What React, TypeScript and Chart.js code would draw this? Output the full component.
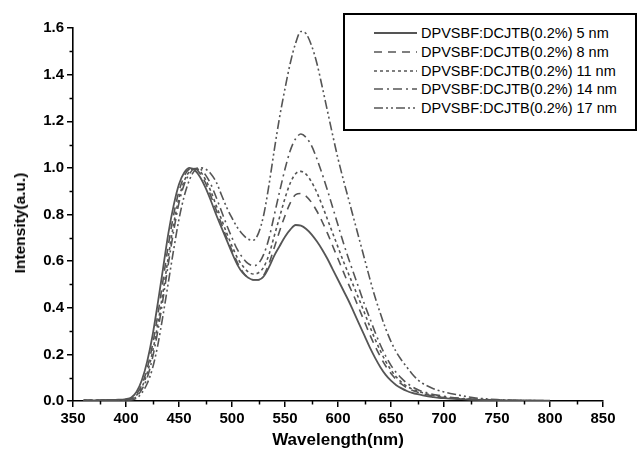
import React, { useEffect, useRef } from "react";
import { Chart, registerables } from "chart.js";

Chart.register(...registerables);

// ---- data ----
const wavelengths = [
  360, 370, 380, 390, 400,
  405, 410, 415, 420, 425, 430, 435, 440, 445, 450, 455, 460, 465, 470, 475, 480,
  485, 490, 495, 500, 505, 510, 515, 520, 525, 530, 535, 540, 545, 550, 555, 560,
  565, 570, 575, 580, 585, 590, 595, 600, 605, 610, 615, 620, 625, 630, 635, 640,
  645, 650, 655, 660, 665, 670, 675, 680, 685, 690, 695, 700,
  710, 720, 730, 740, 750, 760, 770, 780, 790, 800,
];

const nm5 = [
  0.003, 0.003, 0.004, 0.005, 0.008,
  0.015, 0.04, 0.09, 0.17, 0.28, 0.42, 0.57, 0.72, 0.84, 0.93, 0.98, 1.0, 0.99, 0.96, 0.915, 0.86,
  0.80, 0.745, 0.69, 0.635, 0.585, 0.55, 0.53, 0.52, 0.52, 0.535, 0.575, 0.625, 0.665, 0.705, 0.735, 0.755,
  0.752, 0.738, 0.715, 0.685, 0.65, 0.61, 0.565, 0.52, 0.475, 0.43, 0.38, 0.33, 0.28, 0.23, 0.185, 0.145,
  0.112, 0.087, 0.068, 0.054, 0.043, 0.035, 0.029, 0.024, 0.02, 0.017, 0.014, 0.012,
  0.009, 0.007, 0.005, 0.004, 0.003, 0.002, 0.002, 0.001, 0.001, 0.001,
];

const nm8 = [
  0.003, 0.003, 0.004, 0.005, 0.007,
  0.01, 0.03, 0.07, 0.14, 0.24, 0.37, 0.52, 0.67, 0.8, 0.9, 0.965, 0.995, 0.998, 0.975, 0.935, 0.88,
  0.82, 0.76, 0.7, 0.645, 0.595, 0.555, 0.53, 0.52, 0.52, 0.54, 0.59, 0.66, 0.73, 0.795, 0.85, 0.885,
  0.89, 0.878, 0.852, 0.815, 0.77, 0.72, 0.665, 0.61, 0.555, 0.5, 0.45, 0.395, 0.34, 0.285, 0.235, 0.19,
  0.15, 0.118, 0.092, 0.072, 0.057, 0.046, 0.038, 0.031, 0.026, 0.022, 0.018, 0.015,
  0.011, 0.008, 0.006, 0.004, 0.003, 0.002, 0.002, 0.001, 0.001, 0.001,
];

const nm11 = [
  0.003, 0.003, 0.004, 0.004, 0.006,
  0.008, 0.025, 0.06, 0.12, 0.21, 0.33, 0.47, 0.62, 0.76, 0.87, 0.945, 0.985, 1.0, 0.985, 0.95, 0.9,
  0.84, 0.78, 0.72, 0.665, 0.615, 0.58, 0.555, 0.545, 0.55, 0.575, 0.63, 0.71, 0.79, 0.87, 0.935, 0.975,
  0.985, 0.972, 0.94, 0.895, 0.84, 0.78, 0.72, 0.66, 0.6, 0.545, 0.49, 0.435, 0.378, 0.32, 0.265, 0.215,
  0.17, 0.133, 0.103, 0.08, 0.063, 0.051, 0.042, 0.035, 0.029, 0.024, 0.02, 0.017,
  0.012, 0.009, 0.007, 0.005, 0.004, 0.003, 0.002, 0.002, 0.001, 0.001,
];

const nm14 = [
  0.002, 0.003, 0.003, 0.004, 0.005,
  0.006, 0.02, 0.05, 0.1, 0.185, 0.3, 0.44, 0.59, 0.73, 0.85, 0.93, 0.975, 0.997, 0.995, 0.97, 0.93,
  0.875, 0.815, 0.755, 0.7, 0.65, 0.615, 0.59, 0.58, 0.59, 0.63, 0.7, 0.8, 0.9, 0.995, 1.075, 1.125,
  1.145, 1.13, 1.095, 1.04, 0.975, 0.905, 0.83, 0.755, 0.68, 0.61, 0.545, 0.48, 0.415, 0.355, 0.295, 0.24,
  0.193, 0.153, 0.122, 0.097, 0.077, 0.061, 0.049, 0.04, 0.034, 0.028, 0.024, 0.02,
  0.014, 0.01, 0.008, 0.006, 0.004, 0.003, 0.002, 0.002, 0.001, 0.001,
];

const nm17 = [
  0.002, 0.002, 0.003, 0.003, 0.004,
  0.004, 0.012, 0.035, 0.075, 0.14, 0.24, 0.37, 0.51, 0.65, 0.78, 0.88, 0.95, 0.99, 1.0, 0.995, 0.975,
  0.94, 0.885, 0.83, 0.785, 0.745, 0.715, 0.695, 0.69, 0.72, 0.8, 0.93, 1.08, 1.22, 1.34, 1.45, 1.535,
  1.585, 1.575, 1.525, 1.45, 1.35, 1.245, 1.14, 1.04, 0.95, 0.865, 0.78, 0.695, 0.61, 0.525, 0.445, 0.375,
  0.31, 0.255, 0.21, 0.175, 0.145, 0.116, 0.092, 0.075, 0.063, 0.053, 0.045, 0.039,
  0.029, 0.02, 0.013, 0.009, 0.006, 0.004, 0.003, 0.002, 0.002, 0.001,
];

const seriesLabels = [
  "DPVSBF:DCJTB(0.2%) 5 nm",
  "DPVSBF:DCJTB(0.2%) 8 nm",
  "DPVSBF:DCJTB(0.2%) 11 nm",
  "DPVSBF:DCJTB(0.2%) 14 nm",
  "DPVSBF:DCJTB(0.2%) 17 nm",
];
const seriesValues = [nm5, nm8, nm11, nm14, nm17];
const seriesDashes: number[][] = [[], [8, 6], [3, 3], [9, 4, 2, 4], [9, 3, 2, 3, 2, 3]];

const xMinorTicks = [375, 425, 475, 525, 575, 625, 675, 725, 775, 825];
const yMinorTicks = [0.1, 0.3, 0.5, 0.7, 0.9, 1.1, 1.3, 1.5];

const xTitle = "Wavelength(nm)";
const yTitle = "Intensity(a.u.)";

const FONT = '"Liberation Sans", Arial, Helvetica, sans-serif';
const LINE_COLOR = "#555555";

const minorTicksPlugin = {
  id: "minorTicks",
  afterDraw(chart: any) {
    const { ctx } = chart;
    const xs = chart.scales.x;
    const ys = chart.scales.y;
    ctx.save();
    ctx.strokeStyle = "#000";
    ctx.lineWidth = 1.5;
    for (const v of xMinorTicks) {
      const px = Math.round(xs.getPixelForValue(v)) + 0.5;
      ctx.beginPath();
      ctx.moveTo(px, xs.top);
      ctx.lineTo(px, xs.top + 3.5);
      ctx.stroke();
    }
    for (const v of yMinorTicks) {
      const py = Math.round(ys.getPixelForValue(v)) + 0.5;
      ctx.beginPath();
      ctx.moveTo(ys.right, py);
      ctx.lineTo(ys.right - 3.5, py);
      ctx.stroke();
    }
    ctx.restore();
  },
};

export default function App() {
  const canvasRef = useRef<HTMLCanvasElement | null>(null);

  useEffect(() => {
    if (!canvasRef.current) return;
    const chart = new Chart(canvasRef.current, {
      type: "line",
      data: {
        datasets: seriesValues.map((vals, i) => ({
          label: seriesLabels[i],
          data: wavelengths.map((w, j) => ({ x: w, y: vals[j] })),
          borderColor: LINE_COLOR,
          borderWidth: i === 0 ? 1.8 : 1.6,
          borderDash: seriesDashes[i],
          pointRadius: 0,
          fill: false,
          cubicInterpolationMode: "monotone" as const,
        })),
      },
      options: {
        responsive: false,
        animation: false,
        devicePixelRatio: 1,
        layout: { padding: { top: 28, right: 38, left: 0, bottom: 0 } },
        plugins: { legend: { display: false }, tooltip: { enabled: false } },
        scales: {
          x: {
            type: "linear",
            min: 350,
            max: 850,
            afterFit: (s: any) => {
              s.height = 58;
            },
            ticks: {
              stepSize: 50,
              color: "#000",
              padding: 3,
              maxRotation: 0,
              font: { family: FONT, size: 15, weight: "bold" },
            },
            grid: {
              display: true,
              drawOnChartArea: false,
              drawTicks: true,
              tickLength: 6,
              color: "#000",
              lineWidth: 1.5,
            },
            border: { display: true, color: "#000", width: 1.6 },
            title: {
              display: true,
              text: xTitle,
              color: "#000",
              font: { family: FONT, size: 17, weight: "bold" },
              padding: { top: 0, bottom: 8 },
            },
          },
          y: {
            type: "linear",
            min: 0,
            max: 1.6,
            afterFit: (s: any) => {
              s.width = 73;
            },
            ticks: {
              stepSize: 0.2,
              color: "#000",
              padding: 3,
              font: { family: FONT, size: 15, weight: "bold" },
              callback: (v: any) => Number(v).toFixed(1),
            },
            grid: {
              display: true,
              drawOnChartArea: false,
              drawTicks: true,
              tickLength: 6,
              color: "#000",
              lineWidth: 1.5,
            },
            border: { display: true, color: "#000", width: 1.6 },
            title: { display: false },
          },
        },
      },
      plugins: [minorTicksPlugin],
    });
    return () => chart.destroy();
  }, []);

  return (
    <div
      style={{
        position: "fixed",
        left: 0,
        top: 0,
        width: 641,
        height: 459,
        background: "#fff",
      }}
    >
      <canvas ref={canvasRef} width={641} height={459} style={{ display: "block" }} />
      <div
        style={{
          position: "absolute",
          left: 20,
          top: 223,
          transform: "translate(-50%, -50%) rotate(-90deg)",
          whiteSpace: "nowrap",
          fontFamily: FONT,
          fontWeight: "bold",
          fontSize: 15.5,
          lineHeight: "18px",
          color: "#000",
        }}
      >
        {yTitle}
      </div>
      <div
        style={{
          position: "absolute",
          left: 343,
          top: 13,
          width: 294,
          height: 118,
          boxSizing: "border-box",
          border: "2px solid #000",
          background: "#fff",
          fontFamily: FONT,
        }}
      >
        {seriesLabels.map((lab, i) => (
          <div
            key={lab}
            style={{
              position: "absolute",
              left: 28,
              top: 9 + i * 18.8,
              height: 18,
              display: "flex",
              alignItems: "center",
              whiteSpace: "nowrap",
            }}
          >
            <svg width={46} height={18} style={{ display: "block" }}>
              <line
                x1={1}
                y1={9}
                x2={44}
                y2={9}
                stroke={LINE_COLOR}
                strokeWidth={i === 0 ? 1.8 : 1.6}
                strokeDasharray={seriesDashes[i].length ? seriesDashes[i].join(" ") : undefined}
              />
            </svg>
            <span style={{ fontSize: 14.5, color: "#000", marginLeft: 2 }}>{lab}</span>
          </div>
        ))}
      </div>
    </div>
  );
}
